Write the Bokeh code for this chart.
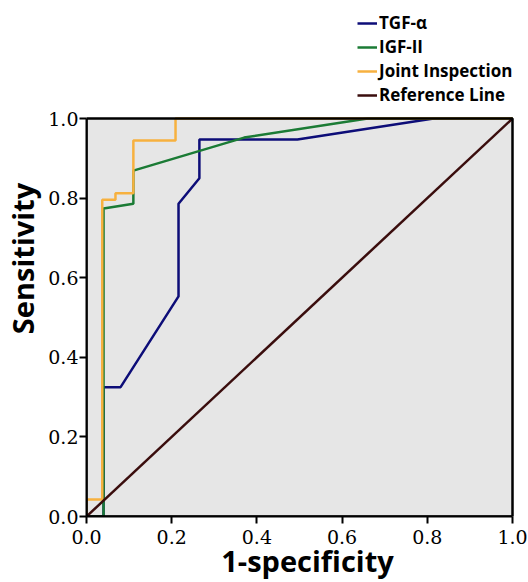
from bokeh.plotting import figure
from bokeh.models import Legend, LegendItem, Range1d, FixedTicker, CustomJSTickFormatter, BoxAnnotation
from bokeh.embed import file_html
from bokeh.resources import INLINE

# ROC curves
tgf_x = [0.0, 0.04, 0.04, 0.08, 0.216, 0.216, 0.265, 0.265, 0.495, 0.815, 1.0]
tgf_y = [0.0, 0.0, 0.325, 0.325, 0.553, 0.786, 0.85, 0.947, 0.947, 1.0, 1.0]

igf_x = [0.0, 0.04, 0.04, 0.11, 0.11, 0.37, 0.66, 1.0]
igf_y = [0.0, 0.0, 0.774, 0.786, 0.869, 0.952, 1.0, 1.0]

joint_x = [0.0, 0.0, 0.037, 0.037, 0.068, 0.068, 0.11, 0.11, 0.209, 0.209, 1.0]
joint_y = [0.0, 0.043, 0.043, 0.796, 0.796, 0.812, 0.812, 0.945, 0.945, 1.0, 1.0]

ref_x = [0.0, 1.0]
ref_y = [0.0, 1.0]

ticks = [0.0, 0.2, 0.4, 0.6, 0.8, 1.0]
series_names = ["TGF-\u03b1", "IGF-II", "Joint Inspection", "Reference Line"]
colors = ["#0d0d78", "#1b7b35", "#f7b13f", "#3a0d0d"]

W, H = 528, 582
LEFT, BOTTOM = 86, 66
# the frame runs to the top/right edge of the canvas so the legend (drawn in the frame) is not clipped
p = figure(width=W, height=H, output_backend="svg", toolbar_location=None,
           x_range=Range1d(0, 442 / 426), y_range=Range1d(0, 516 / 398),
           min_border_left=LEFT, min_border_right=0, min_border_top=0, min_border_bottom=BOTTOM)
p.background_fill_color = "white"
p.border_fill_color = "white"
p.outline_line_color = None
p.xgrid.visible = False
p.ygrid.visible = False

# grey plotting area, and its black border drawn over the curves
p.add_layout(BoxAnnotation(left=0, right=1, bottom=0, top=1, fill_color="#e6e6e6", fill_alpha=1,
                           line_color=None, level="underlay"))
p.add_layout(BoxAnnotation(left=0, right=1, bottom=0, top=1, fill_alpha=0,
                           line_color="black", line_width=2.5, line_alpha=1, level="overlay"))

renderers = []
for xs, ys, c in [(tgf_x, tgf_y, colors[0]), (igf_x, igf_y, colors[1]),
                  (joint_x, joint_y, colors[2]), (ref_x, ref_y, colors[3])]:
    r = p.line(xs, ys, line_color=c, line_width=2.5)
    renderers.append(r)

fmt = CustomJSTickFormatter(code="return tick.toFixed(1);")
for ax in (p.xaxis[0], p.yaxis[0]):
    ax.ticker = FixedTicker(ticks=ticks)
    ax.formatter = fmt
    ax.bounds = (0, 1)
    ax.axis_line_color = "black"
    ax.axis_line_width = 2
    ax.major_tick_line_color = "black"
    ax.major_tick_line_width = 2
    ax.major_tick_out = 7
    ax.major_tick_in = 0
    ax.minor_tick_line_color = None
    ax.major_label_text_font = "DejaVu Serif"
    ax.major_label_text_font_size = "19px"
    ax.major_label_text_color = "black"
    ax.axis_label_text_font = "Open Sans"
    ax.axis_label_text_font_style = "bold"
    ax.axis_label_text_font_size = "29px"
    ax.axis_label_text_color = "black"

p.xaxis.axis_label = "1-specificity"
p.yaxis.axis_label = "Sensitivity"
p.xaxis.major_label_standoff = 6
p.yaxis.major_label_standoff = 1
p.xaxis.axis_label_standoff = -6
p.yaxis.axis_label_standoff = 3

legend = Legend(items=[LegendItem(label=n, renderers=[r]) for n, r in zip(series_names, renderers)],
                location=(271, 410), orientation="vertical",
                background_fill_alpha=0, border_line_color=None,
                label_text_font="Open Sans", label_text_font_style="bold",
                label_text_font_size="17px", label_text_color="black",
                glyph_width=20, glyph_height=18, label_height=18, label_standoff=2,
                spacing=1, padding=0, margin=0)
p.add_layout(legend, "center")

open("out.html", "w").write(file_html(p, INLINE))
